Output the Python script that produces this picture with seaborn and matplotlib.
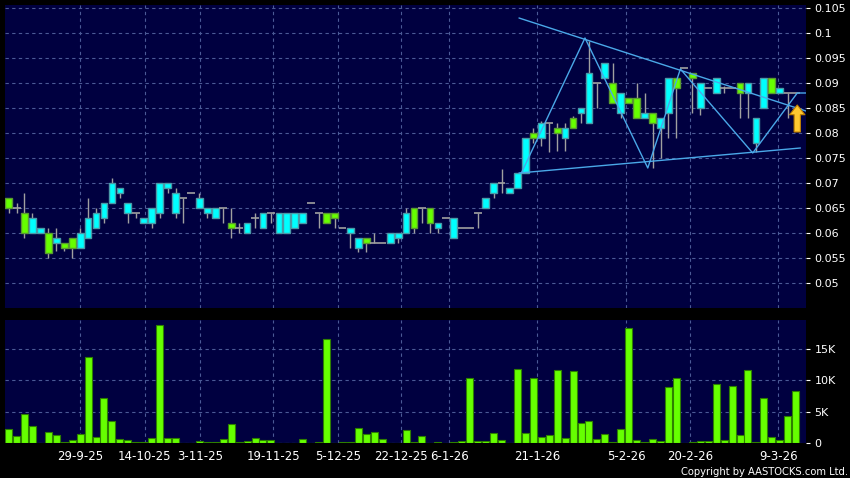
import numpy as np
import pandas as pd
import seaborn as sns
import matplotlib
matplotlib.use("Agg")
import matplotlib.pyplot as plt
from matplotlib.ticker import FuncFormatter

# daily OHLC (HKD) and volume (thousand shares), oldest first
opens = [
    .067, .065, .064, .060, .060, .060, .058, .058, .059, .057,
    .059, .061, .063, .066, .068, .064, .064, .062, .062, .064,
    .069, .064, .067, .068, .065, .064, .063, .065, .062, .061,
    .060, .063, .061, .064, .060, .060, .061, .062, .066, .064,
    .064, .064, .061, .060, .057, .059, .058, .058, .058, .059,
    .060, .065, .065, .065, .061, .063, .059, .061, .061, .064,
    .065, .068, .070, .068, .069, .072, .080, .079, .082, .081,
    .079, .083, .084, .082, .090, .091, .090, .084, .087, .087,
    .083, .084, .081, .084, .091, .093, .092, .085, .089, .088,
    .089, .089, .090, .088, .078, .085, .091, .088, .088, .088,
]
closes = [
    .065, .065, .060, .063, .061, .056, .059, .057, .057, .060,
    .063, .064, .066, .070, .069, .066, .064, .063, .065, .070,
    .070, .068, .067, .068, .067, .065, .065, .065, .061, .061,
    .062, .063, .064, .064, .064, .064, .064, .064, .066, .064,
    .062, .063, .061, .061, .059, .058, .058, .058, .060, .060,
    .064, .061, .065, .062, .062, .063, .063, .061, .061, .064,
    .067, .070, .070, .069, .072, .079, .079, .082, .082, .080,
    .081, .081, .085, .092, .090, .094, .086, .088, .086, .083,
    .084, .082, .083, .091, .089, .093, .091, .090, .089, .091,
    .089, .089, .088, .090, .083, .091, .088, .089, .088, .088,
]
highs = [
    .067, .066, .068, .064, .061, .061, .061, .058, .059, .061,
    .067, .065, .066, .071, .069, .066, .064, .063, .065, .070,
    .070, .069, .067, .068, .068, .065, .065, .065, .065, .062,
    .062, .064, .064, .064, .064, .064, .064, .064, .066, .064,
    .064, .064, .061, .061, .059, .059, .060, .058, .060, .060,
    .065, .065, .065, .065, .062, .063, .063, .061, .061, .064,
    .067, .070, .0728, .069, .072, .079, .081, .0825, .082, .082,
    .082, .0835, .085, .0985, .090, .094, .094, .088, .087, .090,
    .088, .084, .083, .091, .091, .093, .092, .090, .089, .091,
    .0895, .089, .090, .090, .083, .091, .091, .089, .088, .088,
]
lows = [
    .064, .064, .059, .060, .060, .055, .0565, .0565, .055, .057,
    .059, .061, .062, .066, .067, .062, .063, .062, .061, .063,
    .068, .063, .062, .068, .065, .063, .063, .062, .059, .060,
    .060, .061, .061, .062, .060, .060, .061, .062, .066, .061,
    .062, .061, .061, .057, .0563, .0563, .058, .058, .058, .058,
    .060, .060, .062, .060, .060, .063, .059, .061, .061, .061,
    .065, .067, .068, .068, .069, .072, .078, .0775, .0763, .0765,
    .0765, .081, .082, .082, .085, .091, .086, .083, .086, .083,
    .083, .073, .075, .079, .079, .093, .084, .0837, .089, .088,
    .088, .089, .083, .083, .0763, .085, .088, .088, .083, .088,
]
volume_k = [
    2.2, 1.1, 4.6, 2.7, 0.0, 1.8, 1.3, 0.1, 0.5, 1.4,
    13.7, 0.9, 7.2, 3.5, 0.7, 0.5, 0.2, 0.1, 0.8, 18.8,
    0.8, 0.8, 0.0, 0.0, 0.3, 0.1, 0.1, 0.6, 3.0, 0.2,
    0.3, 0.8, 0.5, 0.5, 0.0, 0.05, 0.0, 0.6, 0.0, 0.2,
    16.6, 0.0, 0.2, 0.1, 2.4, 1.5, 1.8, 0.6, 0.0, 0.0,
    2.1, 0.1, 1.1, 0.0, 0.1, 0.0, 0.2, 0.3, 10.4, 0.3,
    0.3, 1.6, 0.5, 0.0, 11.8, 1.6, 10.4, 1.0, 1.3, 11.6,
    0.8, 11.5, 3.2, 3.5, 0.7, 1.5, 0.1, 2.3, 18.3, 0.4,
    0.2, 0.6, 0.3, 8.9, 10.4, 0.0, 0.1, 0.3, 0.3, 9.4,
    0.5, 9.1, 1.2, 11.6, 0.1, 7.2, 1.0, 0.4, 4.3, 8.3,
]
date_labels = ["29-9-25", "14-10-25", "3-11-25", "19-11-25", "5-12-25",
               "22-12-25", "6-1-26", "21-1-26", "5-2-26", "20-2-26", "9-3-26"]
date_pos = [9.0, 17.1, 24.1, 33.3, 41.4, 49.4, 55.4, 66.5, 77.7, 85.7, 96.8]
price_ticks = [0.05, 0.055, 0.06, 0.065, 0.07, 0.075, 0.08, 0.085, 0.09, 0.095, 0.1, 0.105]
vol_ticks = [0, 5000, 10000, 15000]

# drawn pattern lines (bar index, price)
zigzag_x = [64.5, 72.5, 80.4, 84.5, 93.6, 99.2, 100.3]
zigzag_y = [0.072, 0.099, 0.073, 0.0928, 0.076, 0.088, 0.088]
upper_x = [64.2, 100.3]
upper_y = [0.103, 0.0844]
lower_x = [64.2, 99.6]
lower_y = [0.072, 0.077]

BG = "#000040"
GRID = "#4b5a96"
UP = "#00ffff"
UP_EDGE = "#4a9aa8"
DOWN = "#66ff00"
DOWN_EDGE = "#5a9a30"
WICK = "#a0a0a0"
LINE = "#4aa8e8"

sns.set_theme(style="dark")
plt.rcParams["font.family"] = ["DejaVu Sans"]

n = len(opens)
idx = np.arange(n)
df = pd.DataFrame({"idx": idx, "open": opens, "high": highs, "low": lows,
                   "close": closes, "volume": np.array(volume_k) * 1000})

fig = plt.figure(figsize=(8.5, 4.78), dpi=100, facecolor="black")
ax = fig.add_axes([5 / 850, 1 - 308 / 478, 801 / 850, 303 / 478])
ax_vol = fig.add_axes([5 / 850, 1 - 443 / 478, 801 / 850, 123 / 478])

# candles
for _, r in df.iterrows():
    ax.vlines(r["idx"], r["low"], r["high"], color=WICK, lw=1.0, zorder=2)
    if r["close"] > r["open"]:
        ax.bar(r["idx"], r["close"] - r["open"], bottom=r["open"], width=0.85,
               color=UP, edgecolor=UP_EDGE, linewidth=1.0, zorder=3)
    elif r["close"] < r["open"]:
        ax.bar(r["idx"], r["open"] - r["close"], bottom=r["close"], width=0.85,
               color=DOWN, edgecolor=DOWN_EDGE, linewidth=1.0, zorder=3)
    else:
        ax.hlines(r["close"], r["idx"] - 0.5, r["idx"] + 0.5, color=WICK, lw=1.2, zorder=3)

ax.plot(zigzag_x, zigzag_y, color=LINE, lw=1.0, zorder=4)
ax.plot(upper_x, upper_y, color=LINE, lw=1.0, zorder=4)
ax.plot(lower_x, lower_y, color=LINE, lw=1.0, zorder=4)
ax.annotate("", xy=(99.2, 0.0856), xytext=(99.2, 0.0802),
            arrowprops=dict(width=4.5, headwidth=11, headlength=7,
                            facecolor="#ffc830", edgecolor="#c08000", lw=0.8),
            zorder=5)

# volume
sns.barplot(data=df, x="idx", y="volume", ax=ax_vol, native_scale=True,
            color=DOWN, edgecolor="#2e8000", linewidth=0.8, width=0.88,
            saturation=1, zorder=3)

for a in (ax, ax_vol):
    a.set_facecolor(BG)
    a.set_xlim(-0.45, 100.3)
    a.set_xticks(date_pos)
    a.yaxis.tick_right()
    a.grid(True, color=GRID, linestyle=(0, (3, 3)), lw=0.8)
    a.set_axisbelow(True)
    for s in a.spines.values():
        s.set_visible(False)
    a.set_xlabel("")
    a.set_ylabel("")
    a.tick_params(axis="y", colors="white", labelsize=8, length=3, pad=3, width=0.8)

ax.set_ylim(0.045, 0.1056)
ax.set_yticks(price_ticks)
ax.yaxis.set_major_formatter(FuncFormatter(lambda v, p: f"{v:g}"))
ax.tick_params(axis="x", labelbottom=False, length=0)

ax_vol.set_ylim(0, 19600)
ax_vol.set_yticks(vol_ticks)
ax_vol.yaxis.set_major_formatter(FuncFormatter(lambda v, p: "0" if v == 0 else f"{v / 1000:g}K"))
ax_vol.set_xticklabels(date_labels)
ax_vol.tick_params(axis="x", colors="white", labelsize=8.5, length=3, pad=2, width=0.8)
for t in ax_vol.get_xticklines():
    t.set_color("#a0a0a0")

fig.text(848 / 850, 1 - 472 / 478, "Copyright by AASTOCKS.com Ltd.", color="white",
         fontsize=7.2, ha="right", va="center")

fig.savefig("out.png", dpi=100, facecolor="black")
